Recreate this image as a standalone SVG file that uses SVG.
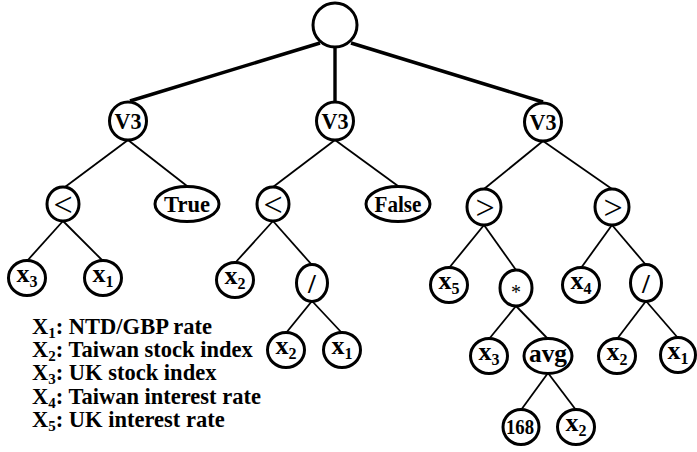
<svg xmlns="http://www.w3.org/2000/svg" width="697" height="452" viewBox="0 0 697 452">
<style>
.n{fill:#fff;stroke:#000;stroke-width:3}
.t{font-family:"Liberation Serif","Times New Roman",serif;font-weight:bold;font-size:24px;text-anchor:middle;fill:#000}
.x{font-size:26px}
.s{font-size:16px}
.op{font-family:"Liberation Serif",serif;font-size:34px;text-anchor:middle;fill:#000}
.c line{stroke:#000;stroke-width:1.8}
.c .k{stroke-width:3.4}
.lg{font-family:"Liberation Serif","Times New Roman",serif;font-weight:bold;font-size:22.5px;fill:#000}
.ls{font-size:15px}
</style>
<g class="c" id="connectors">
<line class="k" x1="320" y1="43" x2="130" y2="101"/>
<line class="k" x1="335" y1="47" x2="335" y2="102"/>
<line class="k" x1="351" y1="43" x2="543" y2="102"/>
<line x1="128" y1="140" x2="65" y2="187"/>
<line x1="128" y1="140" x2="187" y2="186"/>
<line x1="335" y1="140" x2="273" y2="187"/>
<line x1="335" y1="140" x2="398" y2="186"/>
<line x1="543" y1="141" x2="484" y2="189"/>
<line x1="543" y1="141" x2="612" y2="189"/>
<line x1="63" y1="221" x2="27" y2="261"/>
<line x1="63" y1="221" x2="103" y2="261"/>
<line x1="273" y1="221" x2="235" y2="263"/>
<line x1="273" y1="221" x2="312" y2="265"/>
<line x1="484" y1="225" x2="449" y2="268"/>
<line x1="484" y1="225" x2="516" y2="270"/>
<line x1="612" y1="225" x2="581" y2="268"/>
<line x1="612" y1="225" x2="646" y2="265"/>
<line x1="312" y1="301" x2="286" y2="333"/>
<line x1="312" y1="301" x2="342" y2="333"/>
<line x1="516" y1="306" x2="489" y2="339"/>
<line x1="516" y1="306" x2="548" y2="339"/>
<line x1="646" y1="301" x2="617" y2="339"/>
<line x1="646" y1="301" x2="678" y2="338"/>
<line x1="548" y1="373" x2="521" y2="410"/>
<line x1="548" y1="373" x2="576" y2="410"/>
</g>
<g id="root"><ellipse class="n" cx="335" cy="25" rx="22" ry="22"/></g>
<g id="v3a"><ellipse class="n" cx="128" cy="121" rx="18.5" ry="19"/><text class="t" x="128" y="129" textLength="27" lengthAdjust="spacingAndGlyphs">V3</text></g>
<g id="v3b"><ellipse class="n" cx="335" cy="121" rx="18.5" ry="19"/><text class="t" x="335" y="129" textLength="27" lengthAdjust="spacingAndGlyphs">V3</text></g>
<g id="v3c"><ellipse class="n" cx="543" cy="122" rx="18.5" ry="19"/><text class="t" x="543" y="130" textLength="27" lengthAdjust="spacingAndGlyphs">V3</text></g>
<g id="lt1"><ellipse class="n" cx="63" cy="204" rx="16" ry="17"/><text class="op" x="63" y="216">&lt;</text></g>
<g id="true"><ellipse class="n" cx="187" cy="204" rx="32" ry="17.5"/><text class="t" x="187" y="212" textLength="46" lengthAdjust="spacingAndGlyphs">True</text></g>
<g id="lt2"><ellipse class="n" cx="273" cy="204" rx="16" ry="17"/><text class="op" x="273" y="216">&lt;</text></g>
<g id="false"><ellipse class="n" cx="398" cy="204" rx="32" ry="17.5"/><text class="t" x="398" y="212" textLength="47" lengthAdjust="spacingAndGlyphs">False</text></g>
<g id="gt1"><ellipse class="n" cx="484" cy="207" rx="17" ry="18"/><text class="op" x="485" y="219">&gt;</text></g>
<g id="gt2"><ellipse class="n" cx="612" cy="207" rx="17" ry="18"/><text class="op" x="613" y="219">&gt;</text></g>
<g id="x3a"><ellipse class="n" cx="27" cy="278" rx="18.5" ry="17.5"/><text class="t x" x="27" y="282">x<tspan class="s" dy="5">3</tspan></text></g>
<g id="x1a"><ellipse class="n" cx="103" cy="278" rx="18.5" ry="17.5"/><text class="t x" x="103" y="282">x<tspan class="s" dy="5">1</tspan></text></g>
<g id="x2a"><ellipse class="n" cx="235" cy="280" rx="18.5" ry="17.5"/><text class="t x" x="235" y="284">x<tspan class="s" dy="5">2</tspan></text></g>
<g id="div1"><ellipse class="n" cx="312" cy="283" rx="15.5" ry="18.5"/><text class="t" x="312" y="293" style="font-size:28px">/</text></g>
<g id="x5"><ellipse class="n" cx="449" cy="285" rx="18.5" ry="17.5"/><text class="t x" x="449" y="289">x<tspan class="s" dy="5">5</tspan></text></g>
<g id="mul"><ellipse class="n" cx="516" cy="288" rx="16" ry="18"/><text class="t" x="516" y="299" style="font-size:20px;font-weight:normal">*</text></g>
<g id="x4"><ellipse class="n" cx="581" cy="285" rx="18.5" ry="17.5"/><text class="t x" x="581" y="289">x<tspan class="s" dy="5">4</tspan></text></g>
<g id="div2"><ellipse class="n" cx="646" cy="283" rx="15.5" ry="18.5"/><text class="t" x="646" y="293" style="font-size:28px">/</text></g>
<g id="x2b"><ellipse class="n" cx="286" cy="350" rx="18.5" ry="17.5"/><text class="t x" x="286" y="354">x<tspan class="s" dy="5">2</tspan></text></g>
<g id="x1b"><ellipse class="n" cx="342" cy="350" rx="18.5" ry="17.5"/><text class="t x" x="342" y="354">x<tspan class="s" dy="5">1</tspan></text></g>
<g id="x3b"><ellipse class="n" cx="489" cy="356" rx="18.5" ry="17.5"/><text class="t x" x="489" y="360">x<tspan class="s" dy="5">3</tspan></text></g>
<g id="avg"><ellipse class="n" cx="548" cy="356" rx="24" ry="17.5"/><text class="t" x="548" y="362" style="font-size:25px" textLength="38" lengthAdjust="spacingAndGlyphs">avg</text></g>
<g id="x2c"><ellipse class="n" cx="617" cy="356" rx="18.5" ry="17.5"/><text class="t x" x="617" y="360">x<tspan class="s" dy="5">2</tspan></text></g>
<g id="x1c"><ellipse class="n" cx="678" cy="355" rx="17.5" ry="17.5"/><text class="t x" x="678" y="359">x<tspan class="s" dy="5">1</tspan></text></g>
<g id="n168"><ellipse class="n" cx="521" cy="427" rx="18" ry="17.5"/><text class="t" x="520" y="434" style="font-size:20px" textLength="28" lengthAdjust="spacingAndGlyphs">168</text></g>
<g id="x2d"><ellipse class="n" cx="576" cy="427" rx="18.5" ry="17.5"/><text class="t x" x="576" y="431">x<tspan class="s" dy="5">2</tspan></text></g>
<g id="legend">
<text class="lg" x="32" y="334">X<tspan class="ls" dy="4">1</tspan><tspan dy="-4">: NTD/GBP rate</tspan></text>
<text class="lg" x="32" y="357">X<tspan class="ls" dy="4">2</tspan><tspan dy="-4">: Taiwan stock index</tspan></text>
<text class="lg" x="32" y="380">X<tspan class="ls" dy="4">3</tspan><tspan dy="-4">: UK stock index</tspan></text>
<text class="lg" x="32" y="404">X<tspan class="ls" dy="4">4</tspan><tspan dy="-4">: Taiwan interest rate</tspan></text>
<text class="lg" x="32" y="427">X<tspan class="ls" dy="4">5</tspan><tspan dy="-4">: UK interest rate</tspan></text>
</g>
</svg>
